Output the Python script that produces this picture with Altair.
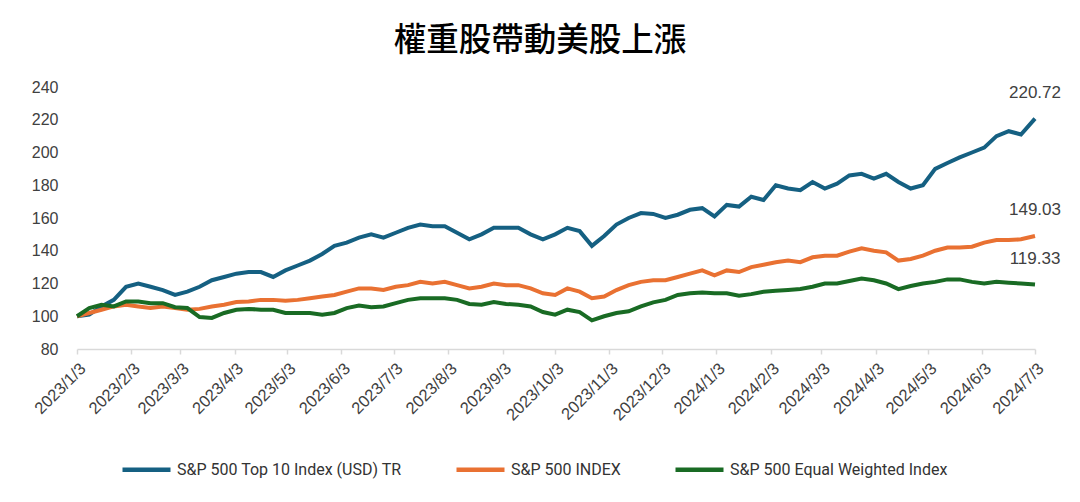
import altair as alt
import pandas as pd

title_text = "權重股帶動美股上漲"
series_names = ["S&P 500 Top 10 Index (USD) TR", "S&P 500 INDEX", "S&P 500 Equal Weighted Index"]
series_colors = ["#156082", "#E97132", "#196B24"]
end_labels = ["220.72", "149.03", "119.33"]

# weekly observation dates (last point is 2024/7/3)
dates = list(pd.date_range("2023-01-03", periods=78, freq="7D")) + [pd.Timestamp("2024-07-03")]

tick_dates = ["2023-01-03", "2023-02-03", "2023-03-03", "2023-04-03", "2023-05-03", "2023-06-03",
              "2023-07-03", "2023-08-03", "2023-09-03", "2023-10-03", "2023-11-03", "2023-12-03",
              "2024-01-03", "2024-02-03", "2024-03-03", "2024-04-03", "2024-05-03", "2024-06-03",
              "2024-07-03"]
y_ticks = [80, 100, 120, 140, 160, 180, 200, 220, 240]

top10 = [100, 101, 106, 110, 118, 120, 118, 116, 113, 115, 118, 122, 124, 126, 127, 127, 124, 128, 131, 134,
         138, 143, 145, 148, 150, 148, 151, 154, 156, 155, 155, 151, 147, 150, 154, 154, 154, 150, 147, 150,
         154, 152, 143, 149, 156, 160, 163, 162.5, 160, 162, 165, 166, 161, 168, 167, 173, 171, 180, 178, 177,
         182, 178, 181, 186, 187, 184, 187, 182, 178, 180, 190, 193.6, 197, 200, 203, 210, 213, 211, 220.72]

sp500 = [100, 102, 104, 106, 107, 106, 105, 106, 105, 104, 104.5, 106, 107, 108.7, 109, 110, 110, 109.5, 110, 111,
         112, 113, 115, 117, 117, 116, 118, 119, 121, 120, 121, 119, 117, 118, 120, 119, 119, 117, 114, 113,
         117, 115, 111, 112, 116, 119, 121, 122, 122, 124, 126, 128, 125, 128, 127, 130, 131.5, 133, 134, 133,
         136, 137, 137, 139.5, 141.5, 140, 139, 134, 135, 137, 140, 142, 142, 142.5, 145, 146.6, 146.5, 147, 149.03]

equal = [100, 105, 107, 106, 109, 109, 108, 108, 105.5, 105, 99.5, 99, 102, 104, 104.5, 104, 104, 102, 102, 102,
         101, 102, 105, 106.5, 105.5, 106, 108, 110, 111, 111, 111, 110, 107.5, 107, 108.7, 107.5, 107, 106, 102.6, 101,
         104, 102.5, 97.5, 100, 102, 103, 106, 108.5, 110, 113, 114, 114.5, 114, 114, 112.5, 113.5, 115, 115.5, 116,
         116.6, 118, 120, 120, 121.5, 123, 122, 120, 116.6, 118.5, 120, 121, 122.5, 122.5, 121, 120, 121, 120.5, 120, 119.33]

rows = []
for name, vals in zip(series_names, [top10, sp500, equal]):
    for d, v in zip(dates, vals):
        rows.append({"date": d, "series": name, "value": v})
df = pd.DataFrame(rows)

ends = pd.DataFrame({
    "date": [dates[-1]] * 3,
    "series": series_names,
    "value": [top10[-1], sp500[-1], equal[-1]],
    "label": end_labels,
})

tick_values = [alt.DateTime(year=int(s[:4]), month=int(s[5:7]), date=int(s[8:])) for s in tick_dates]

x_enc = alt.X(
    "date:T",
    title=None,
    scale=alt.Scale(domain=[tick_values[0], tick_values[-1]], nice=False),
    axis=alt.Axis(
        values=tick_values, format="%Y/%-m/%-d", labelAngle=-45, labelAlign="right", labelBaseline="top",
        labelFont="Liberation Sans", labelFontSize=16.5, labelColor="#404040", labelPadding=6,
        domainColor="#d9d9d9", domainWidth=1.5, tickColor="#d9d9d9", tickSize=5, tickWidth=1.5,
        grid=False, labelOverlap=False, labelBound=False, labelFlush=False,
    ),
)
y_enc = alt.Y(
    "value:Q",
    title=None,
    scale=alt.Scale(domain=[80, 240], nice=False, zero=False),
    axis=alt.Axis(
        values=y_ticks, tickCount=9, domain=False, ticks=False, grid=False, labelPadding=19,
        labelOverlap=False, labelBound=False, labelFlush=False,
        labelFont="Liberation Sans", labelFontSize=16, labelColor="#404040",
    ),
)

lines = alt.Chart(df).mark_line(strokeWidth=4).encode(
    x=x_enc,
    y=y_enc,
    color=alt.Color(
        "series:N",
        sort=series_names,
        scale=alt.Scale(domain=series_names, range=series_colors),
        legend=alt.Legend(
            title=None, orient="none", legendX=43, legendY=356, direction="horizontal",
            symbolType="stroke", symbolSize=2304, symbolStrokeWidth=4.5,
            labelFont="Roboto", labelFontSize=16, labelColor="#333333", labelLimit=400,
            labelOffset=4, columnPadding=45, padding=0,
        ),
    ),
)

texts = alt.Chart(ends).mark_text(
    dy=-26, fontSize=17, font="Liberation Sans", color="#404040", align="center", baseline="middle"
).encode(x=x_enc, y=y_enc, text="label:N")

chart = alt.layer(lines, texts).properties(
    width=958,
    height=262,
    title=alt.TitleParams(
        text=title_text, font="Noto Sans CJK TC", fontSize=32.5, fontWeight=500, color="#000000",
        anchor="middle", dx=-16, offset=22,
    ),
    padding={"left": 69, "top": 79, "right": 37, "bottom": 145},
    autosize=alt.AutoSizeParams(type="none"),
).configure_view(stroke=None)

chart.save("out.html", embed_options={"renderer": "svg", "actions": False})
